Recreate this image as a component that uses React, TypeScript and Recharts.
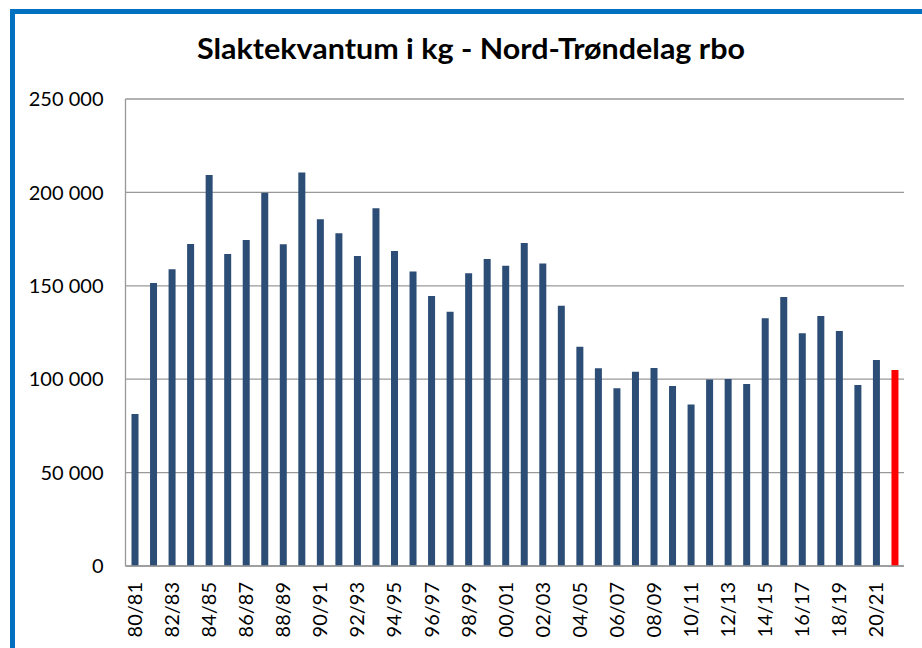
import React from 'react';
import { BarChart, Bar, XAxis, YAxis, CartesianGrid, Cell } from 'recharts';

// sesonger (slakteår)
const seasons = [
  '80/81', '81/82', '82/83', '83/84', '84/85', '85/86', '86/87', '87/88', '88/89', '89/90',
  '90/91', '91/92', '92/93', '93/94', '94/95', '95/96', '96/97', '97/98', '98/99', '99/00',
  '00/01', '01/02', '02/03', '03/04', '04/05', '05/06', '06/07', '07/08', '08/09', '09/10',
  '10/11', '11/12', '12/13', '13/14', '14/15', '15/16', '16/17', '17/18', '18/19', '19/20',
  '20/21', '21/22',
];

// slaktekvantum i kg, lest av grafen
const kilos = [
  81400, 151500, 158800, 172400, 209300, 167000, 174500, 199800, 172200, 210700,
  185600, 178100, 165900, 191500, 168600, 157700, 144500, 136100, 156700, 164300,
  160800, 172900, 162000, 139300, 117400, 105800, 95100, 104000, 106000, 96400,
  86400, 99900, 100100, 97400, 132600, 144000, 124600, 133800, 125800, 96900,
  110300, 104900,
];

const yTicks = [0, 50000, 100000, 150000, 200000, 250000];
const currentSeason = '21/22';

const title = 'Slaktekvantum i kg - Nord-Trøndelag rbo';

const data = seasons.map((season, i) => ({ season, kg: kilos[i] }));

const fmt = (v: number) => v.toLocaleString('en-US').replace(/,/g, ' ');

const SeasonTick = (props: any) => {
  const { x, y, payload } = props;
  return (
    <g transform={`translate(${x},${y})`}>
      <text
        transform="rotate(-90)"
        textAnchor="end"
        dy="0.36em"
        fill="#000"
        fontSize={20}
        fontFamily="Lato"
      >
        {payload.value}
      </text>
    </g>
  );
};

export default function App() {
  return (
    <div style={{ position: 'absolute', left: 0, top: 0, width: 922, height: 648, overflow: 'hidden', background: '#fff' }}>
      <div
        style={{
          position: 'absolute',
          left: 10,
          top: 9,
          width: 940,
          height: 700,
          border: '5px solid #0070C0',
          boxSizing: 'border-box',
        }}
      />
      <svg width={922} height={80} style={{ position: 'absolute', left: 0, top: 0 }}>
        <text
          x={471}
          y={59}
          textAnchor="middle"
          textLength={548}
          lengthAdjust="spacingAndGlyphs"
          fontFamily="Lato"
          fontWeight={700}
          fontSize={28}
          fill="#000"
        >
          {title}
        </text>
      </svg>
      <div style={{ position: 'absolute', left: 0, top: 0 }}>
        <BarChart
          width={922}
          height={648}
          data={data}
          margin={{ top: 99, right: 18, bottom: 12, left: 5 }}
          barCategoryGap={0}
        >
          <CartesianGrid vertical={false} stroke="#999" strokeWidth={1.3} />
          <XAxis
            dataKey="season"
            interval={1}
            height={70}
            tickLine={false}
            tickSize={6}
            tickMargin={10}
            axisLine={{ stroke: '#999', strokeWidth: 1.3 }}
            tick={<SeasonTick />}
          />
          <YAxis
            width={120.5}
            domain={[0, 250000]}
            ticks={yTicks}
            tickFormatter={fmt}
            tickLine={false}
            tickSize={0}
            tickMargin={22}
            axisLine={{ stroke: '#999', strokeWidth: 1.3 }}
            tick={{ fill: '#000', fontSize: 20, fontFamily: 'Lato' }}
          />
          <Bar dataKey="kg" barSize={7} isAnimationActive={false}>
            {data.map((d) => (
              <Cell key={d.season} fill={d.season === currentSeason ? '#FF0000' : '#2C4D75'} />
            ))}
          </Bar>
        </BarChart>
      </div>
    </div>
  );
}
